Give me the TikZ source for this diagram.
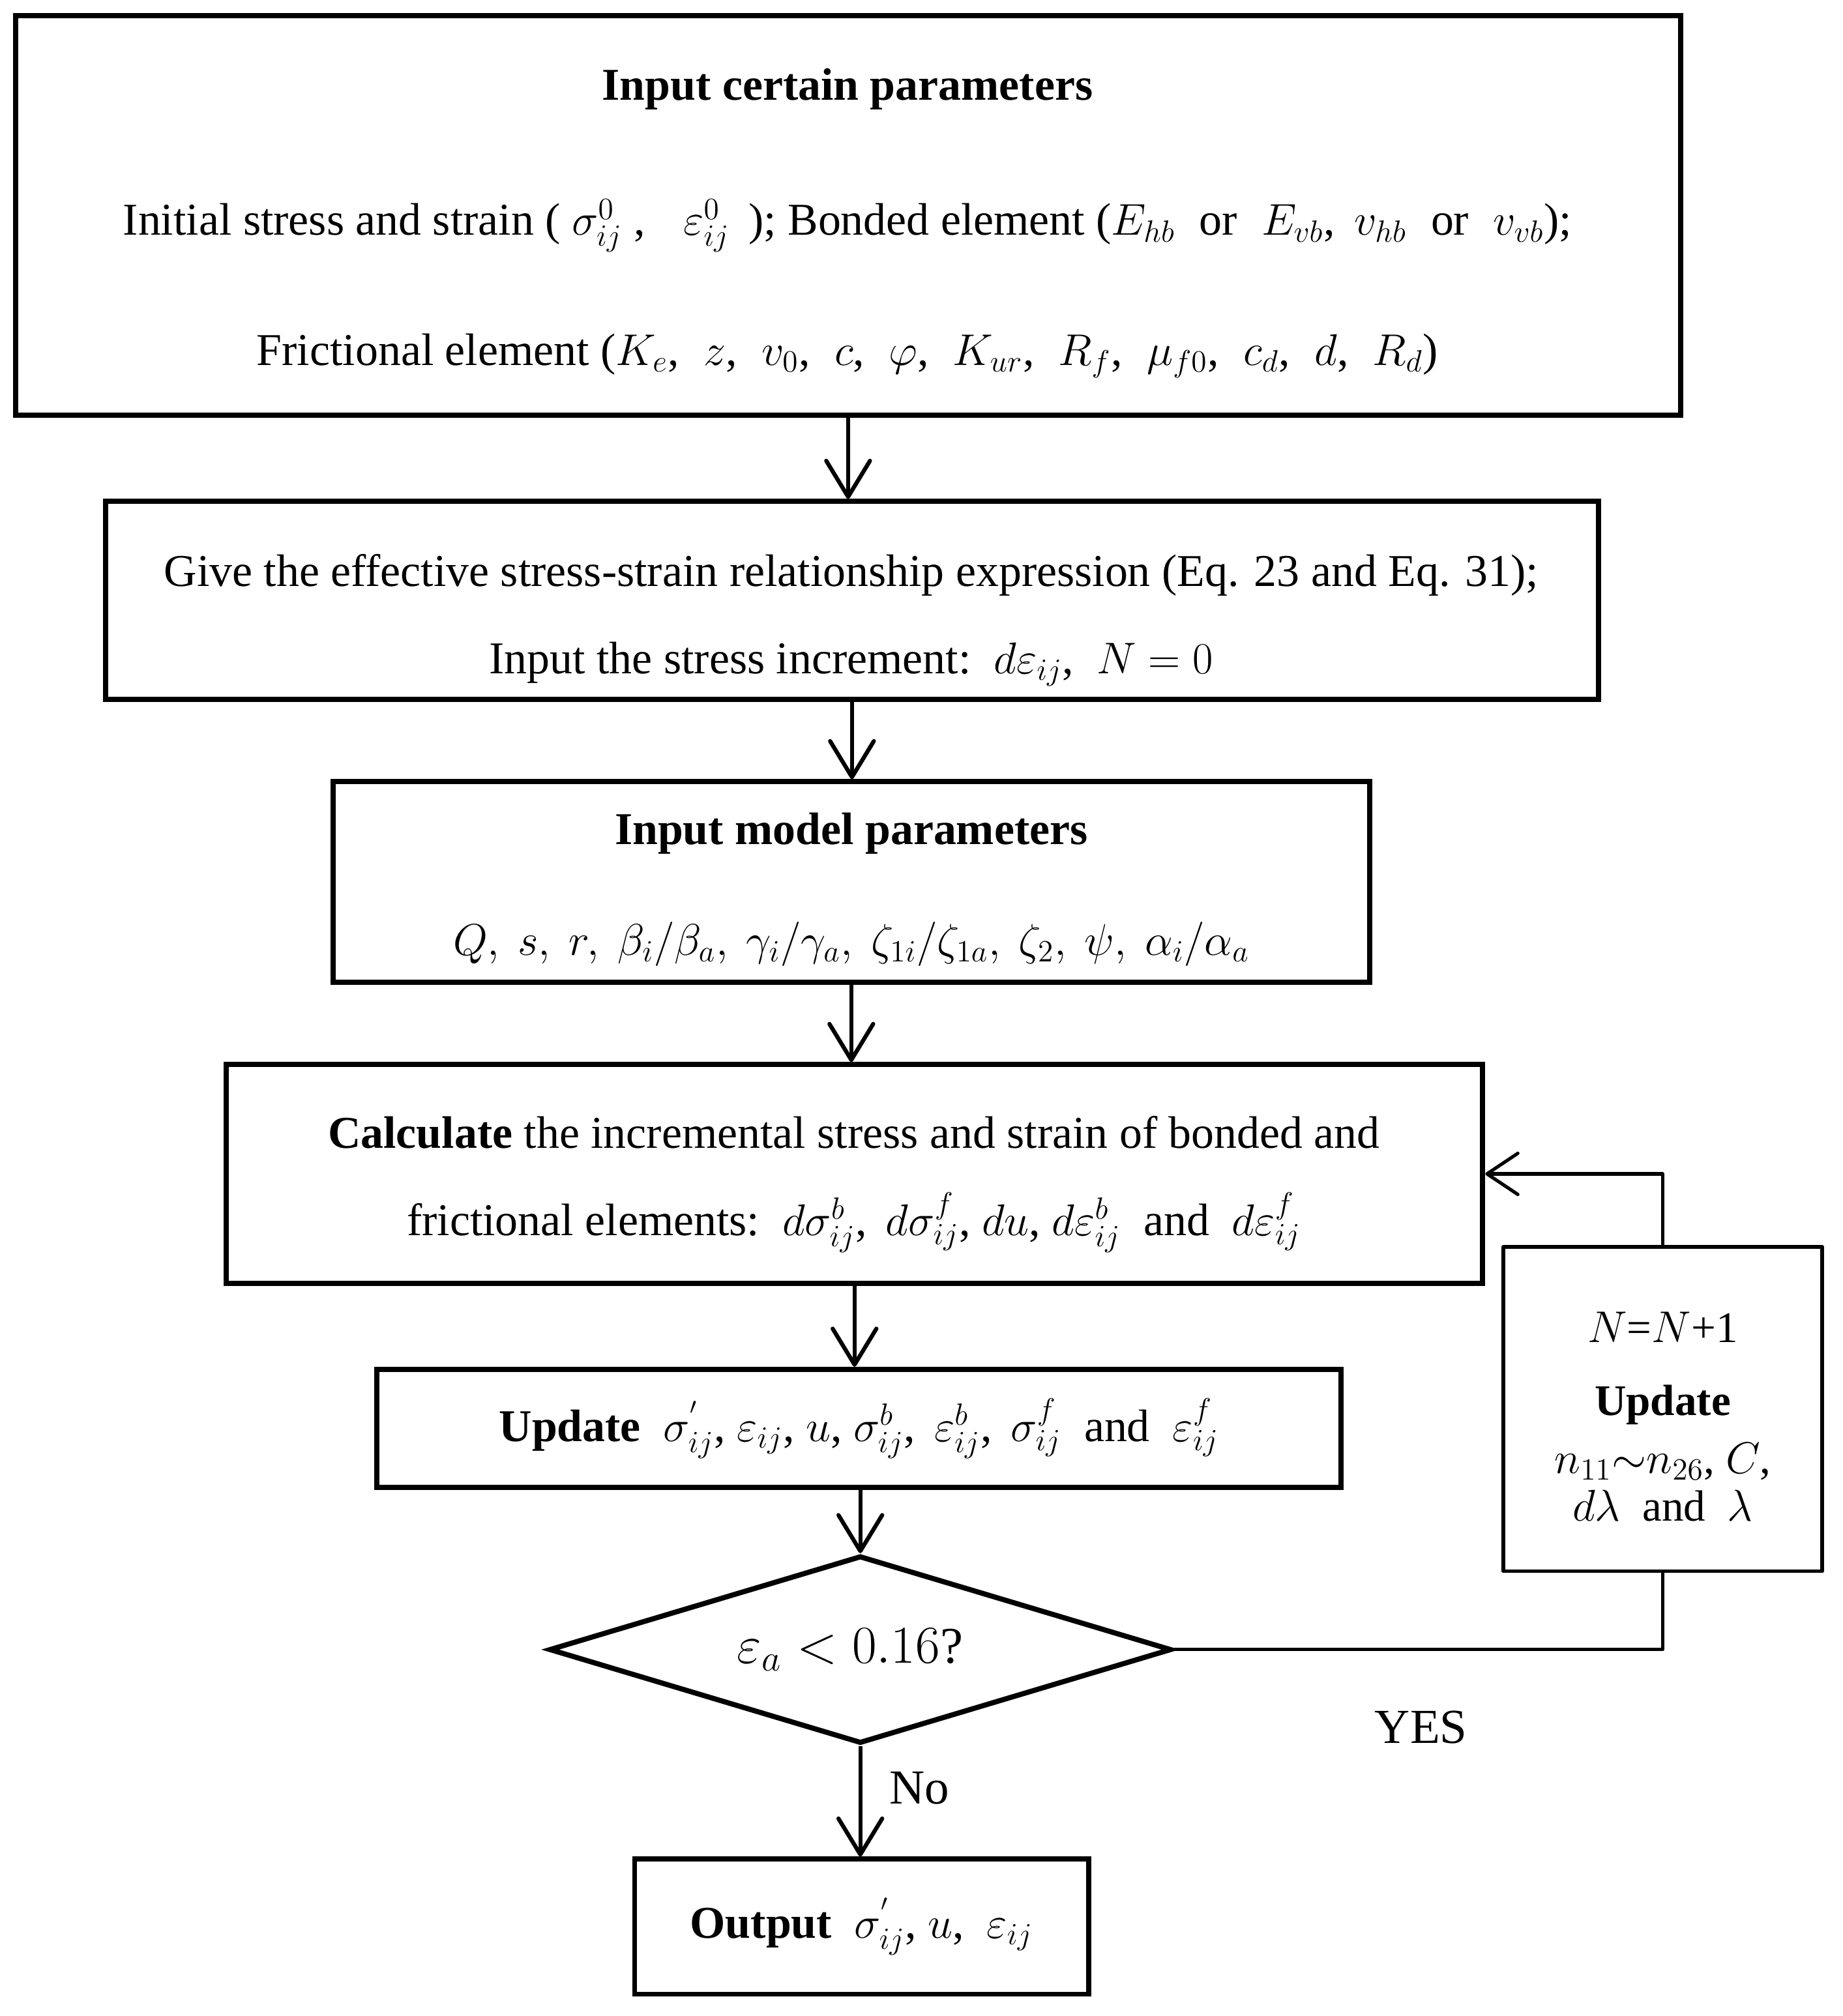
\documentclass[tikz,border=0pt]{standalone}
\usepackage{fontspec}
\setmainfont{Liberation Serif}
\usetikzlibrary{arrows.meta,shapes.geometric}
\newcommand{\gapw}{\ \hspace{5pt}}
\begin{document}
\begin{tikzpicture}[x=0.5pt,y=-0.5pt,
  box/.style={draw,line width=2pt,inner sep=0pt,font=\fontsize{17.7}{21}\selectfont},
  txt/.style={inner sep=0pt,anchor=base,font=\fontsize{17.7}{21}\selectfont},
  mtxt/.style={inner sep=0pt,anchor=base,font=\fontsize{17}{20}\selectfont},
  smalltxt/.style={inner sep=0pt,anchor=base,font=\fontsize{17}{20}\selectfont},
  lbl/.style={inner sep=0pt,anchor=base,font=\fontsize{19}{22}\selectfont},
  arr/.style={line width=1.6pt,-{Straight Barb[length=14pt,width=17pt,round]}},
  loopline/.style={line width=1.3pt,line join=round},
  looparr/.style={line width=1.3pt,line join=round,-{Straight Barb[length=12pt,width=16pt,round]}}]
\useasboundingbox (0,0) rectangle (1433,1568);

% Box 1
\node[box,minimum width=647.5pt,minimum height=155.5pt] (b1) at (659.5,167.5) {};
\node[txt] (b1t) at (659,78) {\textbf{Input certain parameters}};
\node[txt] (b1a) at (659,183) {Initial stress and strain ( $\sigma_{ij}^{0}$ ,\ \ \hspace{6pt}$\varepsilon_{ij}^{0}$\hspace{3pt} ); Bonded element ($E_{hb}$\hspace{5pt} or\hspace{5pt} $E_{vb}$,\hspace{3pt} $v_{hb}$\hspace{5pt} or\hspace{5pt} $v_{vb}$);};
\node[txt] (b1b) at (659,284) {Frictional element ($K_e$,\gapw$z$,\gapw$v_0$,\gapw$c$,\gapw$\varphi$,\gapw$K_{ur}$,\gapw$R_f$,\gapw$\mu_{f0}$,\gapw$c_d$,\gapw$d$,\gapw$R_d$)};

% Box 2
\node[box,minimum width=580.5pt,minimum height=77pt] (b2) at (662.5,467) {};
\node[txt] (b2a) at (662,456) {Give the effective stress-strain relationship expression (Eq. 23 and Eq. 31);};
\node[txt] (b2b) at (662,524) {Input the stress increment:\ \ $d\varepsilon_{ij}$,\ \ $N=0$};

% Box 3
\node[box,minimum width=403pt,minimum height=78pt] (b3) at (662,686) {};
\node[txt] (b3t) at (662,657) {\textbf{Input model parameters}};
\node[mtxt] (b3a) at (662,743) {$Q,\ s,\ r,\ \beta_i/\beta_a,\ \gamma_i/\gamma_a,\ \zeta_{1i}/\zeta_{1a},\ \zeta_2,\ \psi,\ \alpha_i/\alpha_a$};

% Box 4
\node[box,minimum width=488.5pt,minimum height=85pt] (b4) at (664.5,913) {};
\node[txt] (b4a) at (664,893) {\textbf{Calculate} the incremental stress and strain of bonded and};
\node[txt] (b4b) at (664,961) {frictional elements:\ \ $d\sigma_{ij}^{b}$,\ \,$d\sigma_{ij}^{f}$, $du$,\ $d\varepsilon_{ij}^{b}$\ \ and\ \ $d\varepsilon_{ij}^{f}$};

% Box 5
\node[box,minimum width=375pt,minimum height=46pt] (b5) at (668,1111)
  {\textbf{Update}\ \ $\sigma_{ij}^{'}$,\ $\varepsilon_{ij}$, $u$,\ $\sigma_{ij}^{b}$,\ \,$\varepsilon_{ij}^{b}$,\ \,$\sigma_{ij}^{f}$\ \ and\ \ $\varepsilon_{ij}^{f}$};

% Decision
\node[draw,diamond,aspect=3.3,minimum width=242pt,minimum height=73pt,inner sep=0pt,line width=2pt,font=\fontsize{20}{24}\selectfont] (dia) at (669,1283) {$\varepsilon_a < 0.16$?\hspace*{8pt}};

% Output
\node[box,minimum width=176.5pt,minimum height=52.5pt] (b6) at (670,1498.5)
  {\textbf{Output}\ \ $\sigma_{ij}^{'}$, $u$,\ \ $\varepsilon_{ij}$};

% Box 7
\node[draw,line width=1.5pt,line join=round,inner sep=0pt,minimum width=124pt,minimum height=126pt] (b7) at (1293,1096) {};
\node[smalltxt] (b7a) at (1293,1044) {$N$=$N$+1};
\node[smalltxt] (b7b) at (1293,1101) {\textbf{Update}};
\node[smalltxt] (b7c) at (1293,1146) {$n_{11}{\sim}n_{26}$, $C$,};
\node[smalltxt] (b7d) at (1293,1183) {$d\lambda$\ \ and\ \ $\lambda$};

% Labels
\node[lbl] (no) at (715,1403) {No};
\node[lbl] (yes) at (1105,1356) {YES};

% Connectors
\draw[arr] (b1.south) -- (b1.south |- b2.north);
\draw[arr] (b2.south) -- (b2.south |- b3.north);
\draw[arr] (b3.south) -- (b3.south |- b4.north);
\draw[arr] (b4.south) -- (b4.south |- b5.north);
\draw[arr] (b5.south -| dia.north) -- (dia.north);
\draw[arr] (dia.south) -- (dia.south |- b6.north);
\draw[loopline] (dia.east) -| (b7.south);
\draw[looparr] (b7.north) |- (b4.east);
\end{tikzpicture}
\end{document}
